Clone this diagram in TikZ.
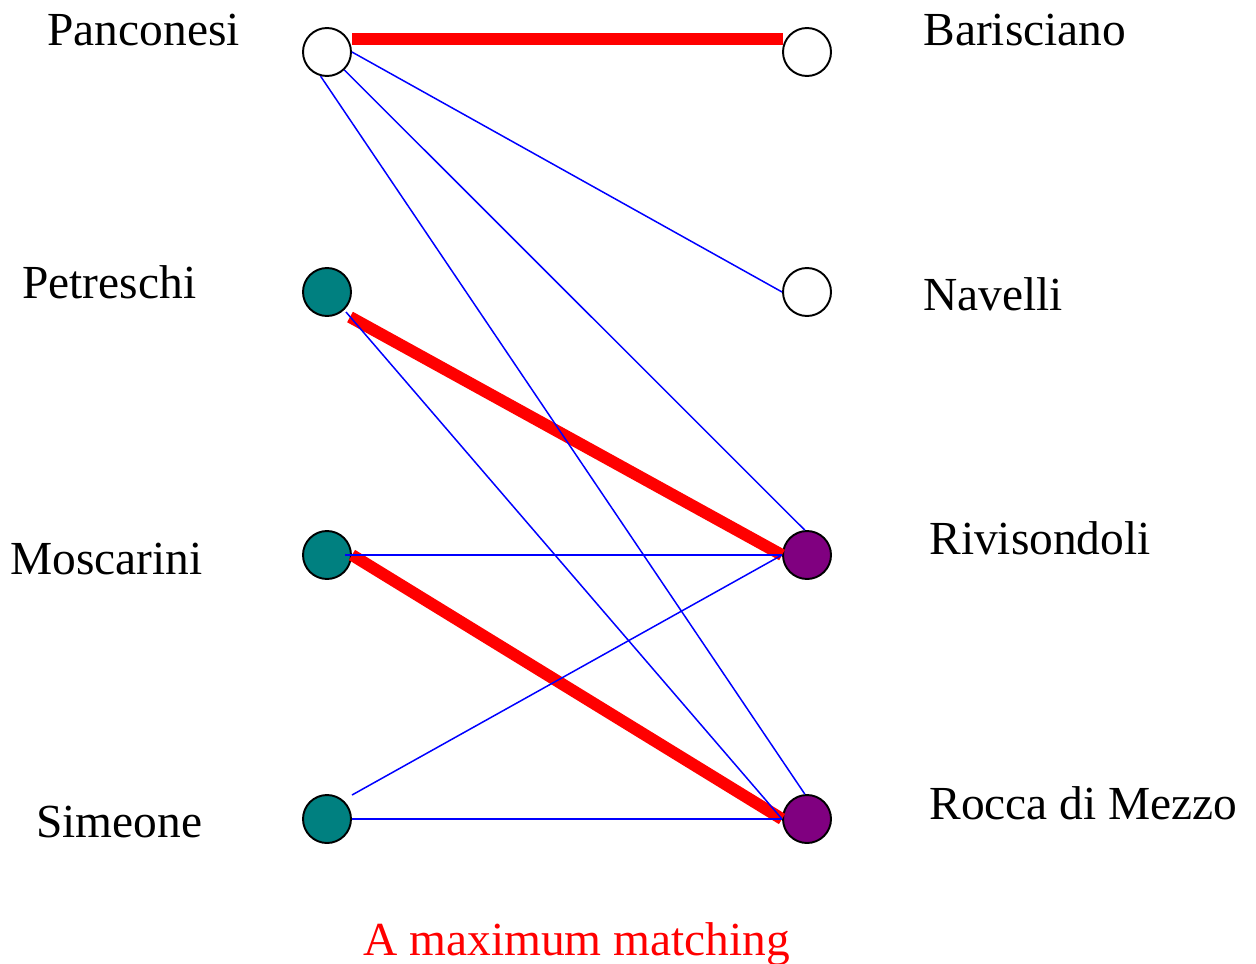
\documentclass[tikz,border=0pt]{standalone}
\usepackage{fontspec}
\setmainfont{Liberation Serif}
\definecolor{tealfill}{RGB}{0,128,128}
\definecolor{purplefill}{RGB}{128,0,128}
\begin{document}
\begin{tikzpicture}[x=0.02cm, y=-0.02cm]
		\tikzset{nd/.style={circle, draw=black, line width=1.1pt, minimum size=0.96cm, inner sep=0pt}};
		\tikzset{lbl/.style={anchor=base west, inner sep=0pt, font=\fontsize{27}{32}\selectfont}};
		\tikzset{edge/.style={blue, line width=0.85pt}};
		\tikzset{match/.style={red, line width=6.8pt}};

		\useasboundingbox (0, 0) rectangle (1256, 963);

		\node[nd, fill=white] (pan) at (327, 52) {};
		\node[nd, fill=tealfill] (pet) at (327, 292) {};
		\node[nd, fill=tealfill] (mos) at (327, 555) {};
		\node[nd, fill=tealfill] (sim) at (327, 819) {};
		\node[nd, fill=white] (bar) at (807, 52) {};
		\node[nd, fill=white] (nav) at (807, 292) {};
		\node[nd, fill=purplefill] (riv) at (807, 555) {};
		\node[nd, fill=purplefill] (roc) at (807, 819) {};

		\node[lbl] (panl) at (47, 46) {Panconesi};
		\node[lbl] (petl) at (22, 298) {Petreschi};
		\node[lbl] (mosl) at (10, 574) {Moscarini};
		\node[lbl] (siml) at (36, 837) {Simeone};
		\node[lbl] (barl) at (923, 46) {Barisciano};
		\node[lbl] (navl) at (923, 310) {Navelli};
		\node[lbl] (rivl) at (929, 554) {Rivisondoli};
		\node[lbl] (rocl) at (929, 819) {Rocca di Mezzo};
		\node[lbl, red] (cap) at (363, 955) {A maximum matching};

		\draw[match] ([shift={(25,-13)}]pan.center) to ([shift={(-24,-13)}]bar.center);
		\draw[match] ([shift={(23,25)}]pet.center) to (riv.west);
		\draw[match] (mos.east) to (roc.west);

		\draw[edge] (pan.east) to (nav.west);
		\draw[edge] (pan.-46) to (riv.95);
		\draw[edge] (pan.-105) to (roc.95);

		\draw[edge] ([shift={(19,20)}]pet.center) to (roc.west);

		\draw[edge] ([shift={(18,0)}]mos.center) to (riv.west);

		\draw[edge] ([shift={(25,-24)}]sim.center) to (riv.west);
		\draw[edge] (sim.east) to (roc.west);
	\end{tikzpicture}
\end{document}
